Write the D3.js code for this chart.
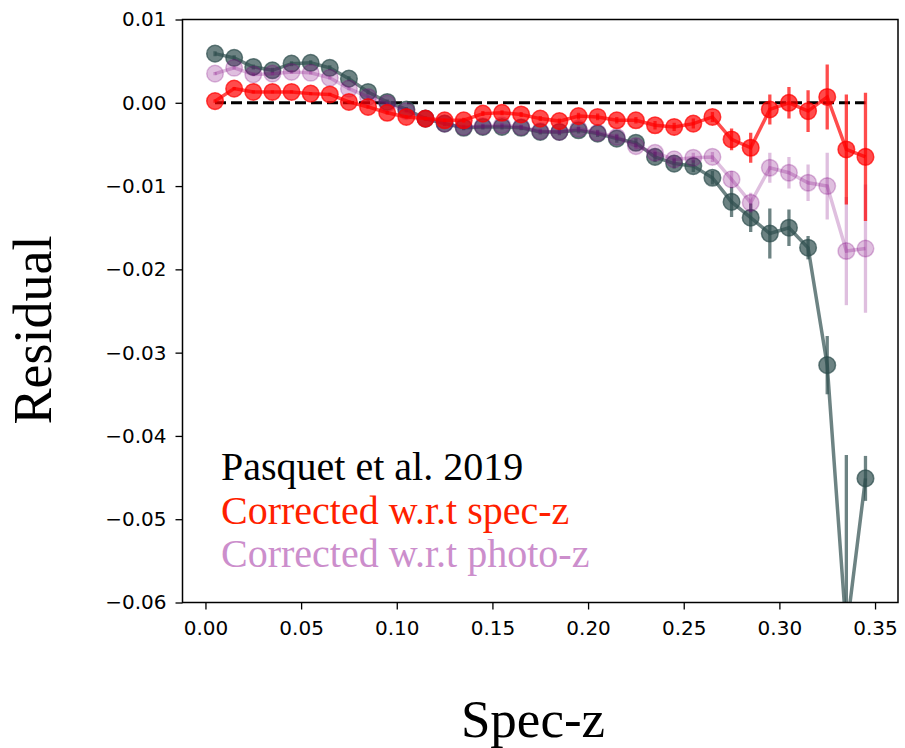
<!DOCTYPE html>
<html>
<head>
<meta charset="utf-8">
<script src="https://cdn.jsdelivr.net/npm/d3@7"></script>
<style>
  body { margin: 0; background: #fff; }
  svg { display: block; }
</style>
</head>
<body>
<div id="chart"></div>
<script>
// redshift bins (bin centres)
const zBins = [0.005, 0.015, 0.025, 0.035, 0.045, 0.055, 0.065, 0.075, 0.085, 0.095,
               0.105, 0.115, 0.125, 0.135, 0.145, 0.155, 0.165, 0.175, 0.185, 0.195,
               0.205, 0.215, 0.225, 0.235, 0.245, 0.255, 0.265, 0.275, 0.285, 0.295,
               0.305, 0.315, 0.325, 0.335, 0.345];

// Pasquet et al. 2019
const pasquet = [0.0059, 0.0054, 0.0043, 0.0039, 0.0047, 0.0048, 0.0042, 0.0029, 0.0013, 0.0001,
                 -0.0008, -0.0019, -0.0025, -0.0030, -0.0029, -0.0029, -0.0030, -0.0035, -0.0035, -0.0033,
                 -0.0037, -0.0043, -0.0048, -0.0065, -0.0073, -0.0076, -0.0090, -0.0119, -0.0138, -0.0157,
                 -0.0150, -0.0174, -0.0315, -0.0636, -0.0451];
const pasquetErr = [0.0003, 0.0003, 0.0003, 0.0003, 0.0003, 0.0003, 0.0003, 0.0003, 0.0003, 0.0003,
                    0.0003, 0.0003, 0.0003, 0.0003, 0.0003, 0.0003, 0.0003, 0.0003, 0.0004, 0.0004,
                    0.0004, 0.0005, 0.0005, 0.0006, 0.0006, 0.0007, 0.0008, 0.0018, 0.0017, 0.0030,
                    0.0022, 0.0014, 0.0035, 0.0213, 0.0027];

// corrected w.r.t spec-z
const specZ = [0.0002, 0.0017, 0.0013, 0.0013, 0.0013, 0.0011, 0.0010, 0.0001, -0.0005, -0.0012,
               -0.0017, -0.0019, -0.0021, -0.0021, -0.0013, -0.0012, -0.0014, -0.0019, -0.0022, -0.0016,
               -0.0017, -0.0021, -0.0021, -0.0027, -0.0029, -0.0025, -0.0017, -0.0044, -0.0054, -0.0008,
               0.0000, -0.0010, 0.0007, -0.0056, -0.0065];
const specZErr = [0.0002, 0.0002, 0.0002, 0.0002, 0.0002, 0.0002, 0.0002, 0.0002, 0.0002, 0.0002,
                  0.0002, 0.0002, 0.0002, 0.0003, 0.0003, 0.0003, 0.0003, 0.0003, 0.0003, 0.0004,
                  0.0004, 0.0004, 0.0004, 0.0005, 0.0005, 0.0006, 0.0006, 0.0013, 0.0018, 0.0018,
                  0.0019, 0.0025, 0.0039, 0.0066, 0.0077];

// corrected w.r.t photo-z
const photoZ = [0.0035, 0.0042, 0.0034, 0.0035, 0.0037, 0.0036, 0.0030, 0.0017, 0.0007, -0.0001,
                -0.0010, -0.0019, -0.0025, -0.0029, -0.0028, -0.0027, -0.0029, -0.0034, -0.0035, -0.0031,
                -0.0036, -0.0041, -0.0052, -0.0060, -0.0068, -0.0066, -0.0065, -0.0092, -0.0120, -0.0078,
                -0.0084, -0.0096, -0.0100, -0.0178, -0.0175];
const photoZErr = [0.0002, 0.0002, 0.0002, 0.0002, 0.0002, 0.0002, 0.0002, 0.0002, 0.0002, 0.0002,
                   0.0002, 0.0002, 0.0002, 0.0003, 0.0003, 0.0003, 0.0003, 0.0003, 0.0003, 0.0004,
                   0.0004, 0.0004, 0.0004, 0.0005, 0.0005, 0.0006, 0.0006, 0.0010, 0.0012, 0.0018,
                   0.0019, 0.0022, 0.0040, 0.0065, 0.0077];

const xTicks = [0.00, 0.05, 0.10, 0.15, 0.20, 0.25, 0.30, 0.35];
const yTicks = [0.01, 0.00, -0.01, -0.02, -0.03, -0.04, -0.05, -0.06];

const labels = ["Pasquet et al. 2019", "Corrected w.r.t spec-z", "Corrected w.r.t photo-z"];

const width = 905, height = 748;
const margin = {top: 19.5, right: 7, bottom: 145.5, left: 182.5};

const svg = d3.select("#chart").append("svg")
    .attr("width", width)
    .attr("height", height);

// matplotlib style 5% margins around the data range
const x = d3.scaleLinear().domain([-0.012, 0.362]).range([margin.left, width - margin.right]);
const y = d3.scaleLinear().domain([-0.06, 0.01]).range([height - margin.bottom, margin.top]);

svg.append("clipPath").attr("id", "plotClip")
  .append("rect")
    .attr("x", margin.left)
    .attr("y", margin.top)
    .attr("width", x.range()[1] - x.range()[0])
    .attr("height", y.range()[0] - y.range()[1]);

const plot = svg.append("g").attr("clip-path", "url(#plotClip)");

// zero reference line
plot.append("line")
    .attr("x1", x(zBins[0]))
    .attr("x2", x(zBins[zBins.length - 1]))
    .attr("y1", y(0))
    .attr("y2", y(0))
    .style("stroke", "black")
    .style("stroke-width", 3)
    .style("stroke-dasharray", "11,5");

function drawSeries(vals, errs, color, alpha) {
    var g = plot.append("g");
    var pts = zBins.map(function(z, i) { return {z: z, v: vals[i], e: errs[i]}; });

    g.selectAll(".err").data(pts).enter().append("line")
        .attr("x1", function(d) { return x(d.z); })
        .attr("x2", function(d) { return x(d.z); })
        .attr("y1", function(d) { return y(d.v - d.e); })
        .attr("y2", function(d) { return y(d.v + d.e); })
        .style("stroke", color)
        .style("stroke-opacity", alpha)
        .style("stroke-width", 3.3);

    g.append("path")
        .datum(pts)
        .attr("d", d3.line().x(function(d) { return x(d.z); }).y(function(d) { return y(d.v); }))
        .style("fill", "none")
        .style("stroke", color)
        .style("stroke-opacity", alpha)
        .style("stroke-width", 3.5);

    g.selectAll(".pt").data(pts).enter().append("circle")
        .attr("cx", function(d) { return x(d.z); })
        .attr("cy", function(d) { return y(d.v); })
        .attr("r", 8.3)
        .style("fill", color)
        .style("fill-opacity", alpha)
        .style("stroke", color)
        .style("stroke-opacity", alpha)
        .style("stroke-width", 1.5);
}

drawSeries(pasquet, pasquetErr, "#2f4f4f", 0.7);
drawSeries(photoZ, photoZErr, "purple", 0.25);
drawSeries(specZ, specZErr, "red", 0.7);

// axes
const xAxis = svg.append("g")
    .attr("transform", "translate(0," + y.range()[0] + ")")
    .call(d3.axisBottom(x).tickValues(xTicks).tickFormat(d3.format(".2f")).tickSize(7).tickPadding(11).tickSizeOuter(0));
const yAxis = svg.append("g")
    .attr("transform", "translate(" + margin.left + ",0)")
    .call(d3.axisLeft(y).tickValues(yTicks).tickFormat(d3.format(".2f")).tickSize(7).tickPadding(9).tickSizeOuter(0));

[xAxis, yAxis].forEach(function(a) {
    a.select(".domain").remove();
    a.selectAll(".tick line").style("stroke", "black").style("stroke-width", 1.3);
    a.selectAll(".tick text")
        .style("font-family", "DejaVu Sans")
        .style("font-size", "20px")
        .style("fill", "black");
});

// frame
svg.append("rect")
    .attr("x", margin.left)
    .attr("y", margin.top)
    .attr("width", x.range()[1] - x.range()[0])
    .attr("height", y.range()[0] - y.range()[1])
    .style("fill", "none")
    .style("stroke", "black")
    .style("stroke-width", 1.5);

// text labels inside the plot
const labelColors = ["black", "#ff1f00", "#cc8ecc"];
svg.selectAll(".lbl").data(labels).enter().append("text")
    .attr("x", 221)
    .attr("y", function(d, i) { return 480 + i * 43.5; })
    .style("font-family", "Liberation Serif")
    .style("font-size", "40px")
    .style("fill", function(d, i) { return labelColors[i]; })
    .text(function(d) { return d; });

// axis titles
svg.append("text")
    .attr("transform", "translate(51,330) rotate(-90)")
    .attr("text-anchor", "middle")
    .style("font-family", "Liberation Serif")
    .style("font-size", "54px")
    .text("Residual");

svg.append("text")
    .attr("x", 533)
    .attr("y", 737)
    .attr("text-anchor", "middle")
    .style("font-family", "Liberation Serif")
    .style("font-size", "53px")
    .text("Spec-z");
</script>
</body>
</html>
